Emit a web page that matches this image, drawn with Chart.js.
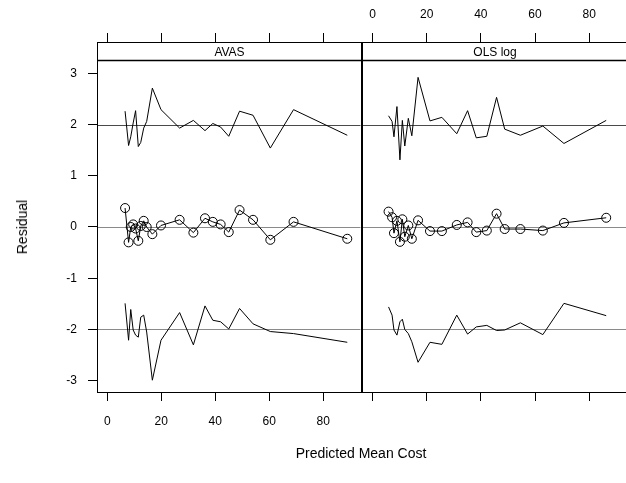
<!DOCTYPE html>
<html>
<head>
<meta charset="utf-8">
<title>Residual by Predicted Mean Cost</title>
<script src="https://cdn.jsdelivr.net/npm/chart.js@4.4.0/dist/chart.umd.min.js"></script>
<style>
    html, body { margin: 0; padding: 0; background: #fff; }
    #wrap {
        position: relative;
        width: 626px;
        height: 483px;
        overflow: hidden;
        font-family: "Liberation Sans", Arial, sans-serif;
    }
    #wrap canvas { position: absolute; top: 0; }
    #cvAvas { left: 0; }
    #cvOls { left: 356px; }
    .axis-title {
        position: absolute;
        font-size: 14px;
        color: #000;
        white-space: nowrap;
    }
    #yTitle { left: 22px; top: 227px; transform: translate(-50%, -50%) rotate(-90deg); }
    #xTitle { left: 361px; top: 453px; transform: translate(-50%, -50%); }
</style>
</head>
<body>
<div id="wrap">
    <canvas id="cvAvas" width="366" height="483"></canvas>
    <canvas id="cvOls" width="276" height="483"></canvas>
    <div class="axis-title" id="yTitle">Residual</div>
    <div class="axis-title" id="xTitle">Predicted Mean Cost</div>
</div>

<script>
// ===========================
// Data
// ===========================

const xTicks = [0, 20, 40, 60, 80];
const yTicks = [-3, -2, -1, 0, 1, 2, 3];
const refLevels = [-2, 0, 2];

// AVAS panel
const avasCost  = [6.6, 7.9, 8.7, 9.6, 10.5, 11.5, 12.4, 13.5, 14.6, 16.7, 19.9, 26.8, 31.9, 36.2, 39.1, 42.0, 45.0, 49.0, 54.0, 60.4, 69.0, 88.9];
const avasUpper = [2.26, 1.59, 1.76, 2.03, 2.27, 1.57, 1.65, 1.93, 2.06, 2.71, 2.29, 1.93, 2.08, 1.88, 2.02, 1.95, 1.77, 2.26, 2.18, 1.54, 2.29, 1.79];
const avasMean  = [0.37, -0.30, 0.00, 0.05, -0.03, -0.27, 0.02, 0.12, 0.00, -0.14, 0.03, 0.14, -0.11, 0.17, 0.10, 0.05, -0.10, 0.33, 0.14, -0.25, 0.10, -0.23];
const avasLower = [-1.49, -2.21, -1.61, -2.01, -2.11, -2.15, -1.76, -1.72, -2.05, -2.99, -2.21, -1.67, -2.30, -1.54, -1.82, -1.85, -1.99, -1.59, -1.89, -2.04, -2.08, -2.25];

// OLS log panel
const olsCost  = [5.9, 7.2, 7.9, 9.0, 10.1, 11.0, 11.9, 13.2, 14.5, 16.8, 21.2, 25.6, 31.1, 35.1, 38.3, 42.2, 45.8, 48.8, 54.6, 62.9, 70.7, 86.3];
const olsUpper = [2.17, 2.06, 1.76, 2.35, 1.31, 2.08, 1.58, 2.12, 1.78, 2.92, 2.07, 2.14, 1.82, 2.27, 1.74, 1.77, 2.53, 1.91, 1.79, 1.97, 1.63, 2.08];
const olsMean  = [0.30, 0.19, -0.12, 0.12, -0.29, 0.15, -0.19, 0.03, -0.23, 0.13, -0.08, -0.08, 0.04, 0.09, -0.10, -0.07, 0.26, -0.04, -0.04, -0.07, 0.08, 0.18];
const olsLower = [-1.56, -1.72, -2.01, -2.11, -1.85, -1.80, -2.00, -2.08, -2.24, -2.64, -2.25, -2.29, -1.72, -2.09, -1.95, -1.92, -2.02, -2.01, -1.87, -2.10, -1.49, -1.73];

// ===========================
// Layout
// ===========================

const X_MIN = -3.8, X_MAX = 93.8;
const Y_MIN = -3.22, Y_MAX = 3.61;   // top part of the area holds the strip
const TOP_H = 42, BOTTOM_H = 91, STRIP_H = 18, Y_AXIS_W = 97;
const FONT = '"Liberation Sans", Arial, sans-serif';

Chart.defaults.font.family = FONT;
Chart.defaults.font.size = 12;
Chart.defaults.color = '#000';

function pairs(xs, ys) {
    return xs.map((x, i) => ({ x: x, y: ys[i] }));
}

// gray reference lines at the fixed levels
const refLinePlugin = {
    id: 'refLines',
    beforeDatasetsDraw(chart) {
        const { ctx, chartArea } = chart;
        const y = chart.scales.y;
        ctx.save();
        ctx.lineWidth = 1;
        refLevels.forEach((lv) => {
            const py = Math.round(y.getPixelForValue(lv)) + 0.5;
            ctx.strokeStyle = lv === 2 ? '#4a4a4a' : '#8a8a8a';
            ctx.beginPath();
            ctx.moveTo(chartArea.left, py);
            ctx.lineTo(chartArea.right, py);
            ctx.stroke();
        });
        ctx.restore();
    }
};

// panel box plus the strip with its name
const stripPlugin = {
    id: 'strip',
    afterDraw(chart, args, opts) {
        const { ctx, chartArea } = chart;
        const l = Math.round(chartArea.left) + 0.5;
        const r = Math.round(chartArea.right) + 0.5;
        const t = Math.round(chartArea.top) + 0.5;
        const b = Math.round(chartArea.bottom) + 0.5;
        const sb = t + STRIP_H;
        ctx.save();
        ctx.strokeStyle = '#000';
        ctx.lineWidth = 1;
        ctx.strokeRect(l, t, r - l, b - t);
        ctx.lineWidth = 1.5;
        ctx.beginPath();
        ctx.moveTo(l, sb);
        ctx.lineTo(r, sb);
        ctx.stroke();
        ctx.fillStyle = '#000';
        ctx.font = '12px ' + FONT;
        ctx.textAlign = 'center';
        ctx.textBaseline = 'middle';
        ctx.fillText(opts.label, (l + r) / 2, t + STRIP_H / 2 + 1);
        ctx.restore();
    }
};

function tickScale(position, showLabels, height, padding) {
    return {
        type: 'linear',
        position: position,
        min: X_MIN,
        max: X_MAX,
        afterBuildTicks: (scale) => { scale.ticks = xTicks.map(v => ({ value: v })); },
        afterFit: (scale) => { scale.height = height; },
        grid: { drawOnChartArea: false, drawTicks: true, tickLength: 9, color: '#000', lineWidth: 1 },
        border: { display: false },
        ticks: {
            display: true,
            padding: padding,
            maxRotation: 0,
            color: showLabels ? '#000' : 'rgba(0,0,0,0)'
        }
    };
}

function buildPanel(canvasId, label, cost, upper, mean, lower, opt) {
    const line = { borderColor: '#000', borderWidth: 1, pointRadius: 0, fill: false, tension: 0 };

    return new Chart(document.getElementById(canvasId), {
        type: 'line',
        data: {
            datasets: [
                Object.assign({ data: pairs(cost, upper) }, line),
                Object.assign({ data: pairs(cost, lower) }, line),
                Object.assign({ data: pairs(cost, mean) }, line, {
                    pointRadius: 4.5,
                    pointStyle: 'circle',
                    pointBorderColor: '#000',
                    pointBackgroundColor: 'rgba(0,0,0,0)',
                    pointBorderWidth: 1
                })
            ]
        },
        options: {
            responsive: false,
            animation: false,
            layout: { padding: { left: opt.padLeft, right: opt.padRight, top: 0, bottom: 0 } },
            plugins: {
                legend: { display: false },
                tooltip: { enabled: false },
                strip: { label: label }
            },
            scales: {
                x: tickScale('bottom', opt.bottomLabels, BOTTOM_H, 13),
                x2: tickScale('top', opt.topLabels, TOP_H, 11),
                y: {
                    type: 'linear',
                    position: 'left',
                    display: opt.yAxis,
                    min: Y_MIN,
                    max: Y_MAX,
                    afterBuildTicks: (scale) => { scale.ticks = yTicks.map(v => ({ value: v })); },
                    afterFit: (scale) => { scale.width = opt.yAxis ? Y_AXIS_W : 0; },
                    grid: { drawOnChartArea: false, drawTicks: true, tickLength: 9, color: '#000', lineWidth: 1 },
                    border: { display: false },
                    ticks: { padding: 11 }
                }
            }
        },
        plugins: [refLinePlugin, stripPlugin]
    });
}

buildPanel('cvAvas', 'AVAS', avasCost, avasUpper, avasMean, avasLower, {
    yAxis: true, topLabels: false, bottomLabels: true, padLeft: 0, padRight: 4
});

buildPanel('cvOls', 'OLS log', olsCost, olsUpper, olsMean, olsLower, {
    yAxis: false, topLabels: true, bottomLabels: false, padLeft: 5, padRight: 5
});
</script>
</body>
</html>
